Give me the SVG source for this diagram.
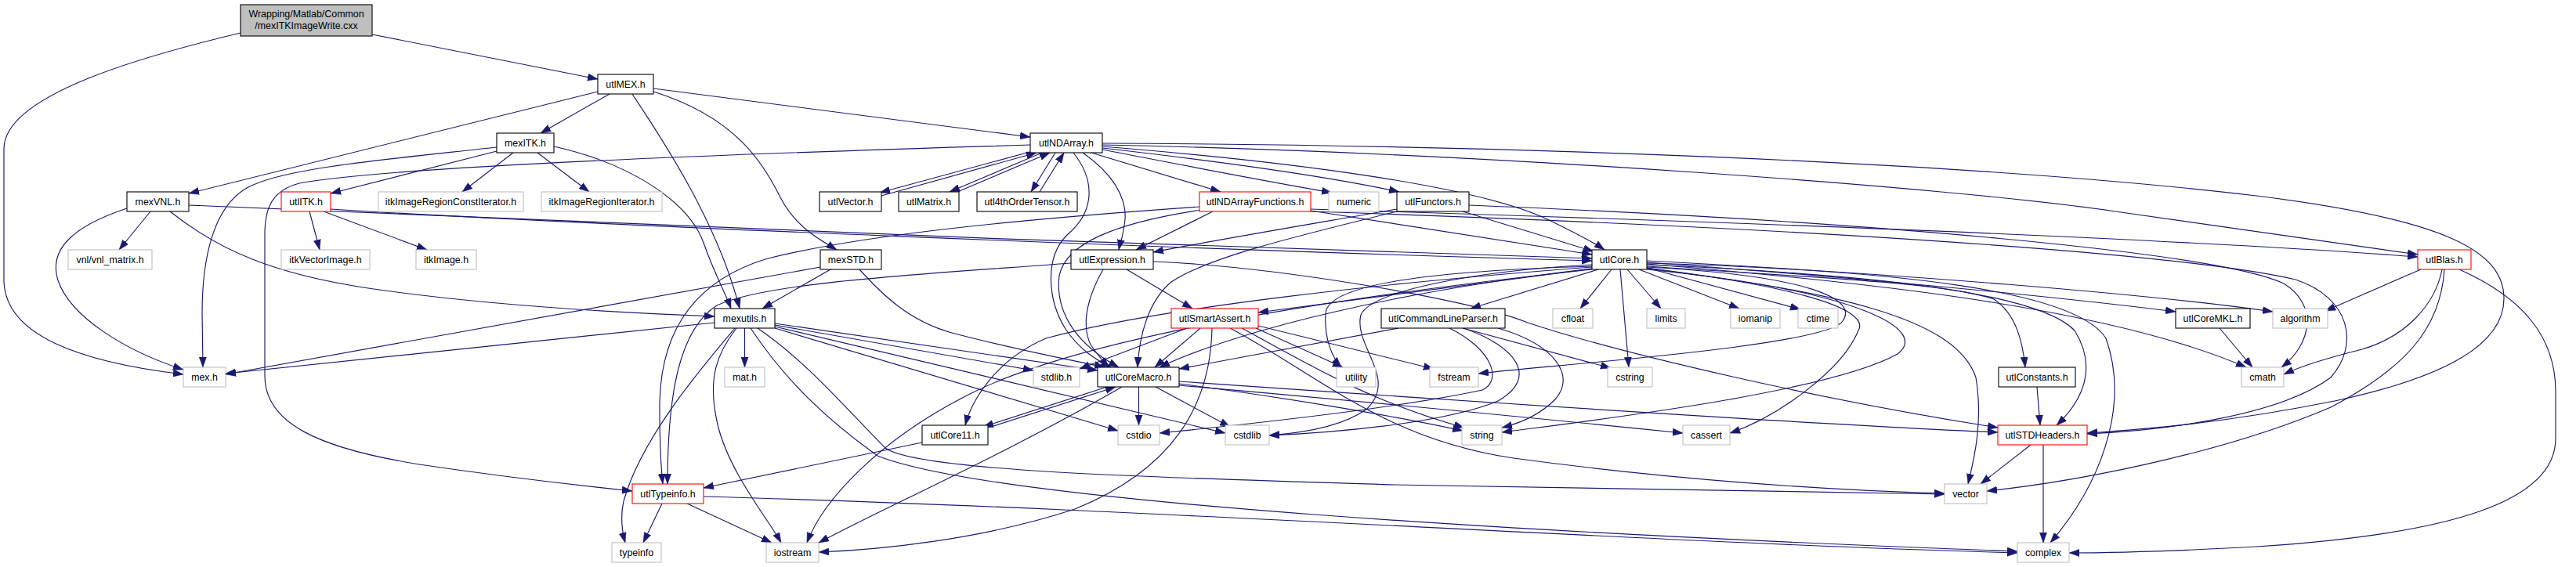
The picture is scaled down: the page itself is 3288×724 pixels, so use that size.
<svg xmlns="http://www.w3.org/2000/svg" width="3288" height="724" viewBox="0 0 3288 724">
<defs>
<style>
.nd rect{fill:#fff;stroke:#000;stroke-width:1.1}
.gy rect{fill:#fff;stroke:#bfbfbf;stroke-width:1.1}
.rd rect{fill:#fff;stroke:#ff0000;stroke-width:1.1}
.rt rect{fill:#bfbfbf;stroke:#000;stroke-width:1.1}
text{font-family:"Liberation Sans",Arial,Helvetica,sans-serif;font-size:12.4px;text-anchor:middle;fill:#000}
#edges path{fill:none;stroke:#191970;stroke-width:1.15;marker-end:url(#ah)}
</style>
<marker id="ah" markerUnits="userSpaceOnUse" markerWidth="14" markerHeight="10" viewBox="0 0 14 10" refX="13" refY="5" orient="auto"><path d="M0,0.4 L13,5 L0,9.6 z" fill="#191970" stroke="#191970" stroke-width="0.5"/></marker>
</defs>
<rect width="3288" height="724" fill="#fff"/>
<g id="edges">
<path d="M475,44 L763,101"/>
<path d="M307,42 C190,70 5,120 5,190 L5,360 C8,428 100,462 234,478"/>
<path d="M778,120 L690,170"/>
<path d="M763,117 L241,247"/>
<path d="M834,117 C940,150 975,210 995,250 C1015,290 1045,305 1068,319"/>
<path d="M807,120 C840,170 915,280 944,394"/>
<path d="M834,113 L1315,175"/>
<path d="M634,193 L422,247"/>
<path d="M655,195 L590,245"/>
<path d="M686,195 L752,245"/>
<path d="M634,188 C480,205 360,215 315,240 C272,265 258,330 258,400 L259,469"/>
<path d="M707,187 C810,210 880,260 898,310 C912,350 925,372 933,394"/>
<path d="M192,270 L152,319"/>
<path d="M162,266 C90,290 62,320 74,358 C90,405 160,448 234,472"/>
<path d="M217,270 C280,320 350,350 470,368 C620,390 780,399 912,404"/>
<path d="M241,262 C600,280 1500,315 2032,330"/>
<path d="M395,270 L408,319"/>
<path d="M413,270 L545,319"/>
<path d="M422,267 C700,285 1500,318 2032,333"/>
<path d="M1047,341 L288,478"/>
<path d="M1060,344 L973,394"/>
<path d="M1097,344 C1125,375 1160,410 1215,425 C1310,450 1380,462 1410,469"/>
<path d="M1318,193 L1123,246"/>
<path d="M1125,250 L1323,195"/>
<path d="M1330,195 L1212,245"/>
<path d="M1222,245 L1340,195"/>
<path d="M1347,195 L1316,245"/>
<path d="M1327,245 L1358,195"/>
<path d="M1393,195 L1558,245"/>
<path d="M1407,191 C1480,205 1580,225 1700,246"/>
<path d="M1407,189 C1530,203 1680,222 1786,245"/>
<path d="M1407,187 C1630,205 1880,235 1975,280 C2010,297 2035,310 2048,319"/>
<path d="M1382,195 C1418,220 1438,250 1436,280 C1434,300 1430,310 1428,319"/>
<path d="M1407,185 C1900,195 2500,240 2700,270 C2880,296 3020,316 3086,325"/>
<path d="M1407,183 C1900,185 2500,205 2880,250 C3120,280 3195,320 3196,380 C3197,440 3120,482 2980,512 C2840,540 2740,548 2664,553"/>
<path d="M1370,195 C1398,230 1398,270 1362,300 C1332,330 1338,385 1360,420 C1378,447 1400,460 1418,469"/>
<path d="M1315,185 C880,198 490,214 382,234 C344,244 338,270 338,300 L338,480 C338,540 405,572 535,593 C650,610 740,620 807,627"/>
<path d="M1548,270 L1450,319"/>
<path d="M1533,268 C1420,285 1360,312 1352,352 C1346,402 1378,442 1428,469"/>
<path d="M1531,264 C1300,280 1100,300 980,330 C880,360 842,430 842,520 C842,570 844,600 846,618"/>
<path d="M1673,269 L2032,325"/>
<path d="M1673,267 C2200,283 2780,305 3086,328"/>
<path d="M1673,270 C2280,290 2780,322 2930,357 C3000,380 3012,440 2975,482 C2910,530 2770,549 2664,554"/>
<path d="M1875,262 C2380,282 2830,322 2915,362 C2960,390 2950,440 2912,469"/>
<path d="M1867,270 L2034,321"/>
<path d="M1783,267 C1680,285 1560,305 1472,322"/>
<path d="M1783,270 C1640,305 1540,330 1495,360 C1465,385 1454,430 1452,469"/>
<path d="M1408,344 C1392,372 1378,410 1392,440 C1402,455 1410,463 1415,469"/>
<path d="M1438,344 L1522,394"/>
<path d="M1472,334 C1620,340 1870,380 1950,412 C2070,452 2330,512 2550,546"/>
<path d="M1367,336 C1180,350 980,360 915,390 C868,420 852,500 852,618"/>
<path d="M1532,419 L1474,469"/>
<path d="M1515,419 L1378,471"/>
<path d="M1547,419 C1545,520 1495,600 1372,650 C1250,690 1120,702 1045,705"/>
<path d="M1603,419 L1714,469"/>
<path d="M1606,416 L1830,471"/>
<path d="M1585,419 C1665,462 1745,512 1869,546"/>
<path d="M1570,419 C1685,480 1765,560 1932,585 C2130,612 2330,626 2482,630"/>
<path d="M1785,419 L1505,471"/>
<path d="M1912,419 C1985,440 2012,480 1985,510 C1965,530 1942,540 1917,546"/>
<path d="M1867,419 L2056,470"/>
<path d="M1868,419 C1935,442 1965,482 1912,512 C1840,542 1690,553 1620,556"/>
<path d="M1850,419 C1905,446 1918,486 1892,498 C1780,522 1590,542 1480,553"/>
<path d="M2033,343 L1606,399"/>
<path d="M2040,344 L1877,394"/>
<path d="M2057,344 L2017,394"/>
<path d="M2068,344 L2079,469"/>
<path d="M2077,344 L2120,394"/>
<path d="M2092,344 L2220,394"/>
<path d="M2102,342 L2298,395"/>
<path d="M2102,335 C2380,355 2635,380 2777,398"/>
<path d="M2102,333 C2430,350 2740,375 2901,398"/>
<path d="M2102,337 C2380,360 2690,392 2867,469"/>
<path d="M2102,340 C2320,355 2480,360 2545,382 C2575,402 2582,440 2585,469"/>
<path d="M2102,338 C2380,350 2600,372 2648,422 C2678,470 2658,512 2625,543"/>
<path d="M2102,336 C2430,345 2650,372 2688,432 C2720,522 2678,622 2617,693"/>
<path d="M2102,342 C2330,372 2495,402 2522,482 C2532,542 2518,592 2512,618"/>
<path d="M2102,343 C2270,362 2390,392 2372,422 C2352,472 2270,532 2208,553"/>
<path d="M2102,341 C2310,352 2372,382 2352,410 C2332,442 1980,466 1887,477"/>
<path d="M2102,344 C2380,372 2462,422 2422,452 C2332,502 2030,537 1917,552"/>
<path d="M2032,340 C1830,346 1695,362 1692,400 C1690,432 1700,456 1712,469"/>
<path d="M2032,338 C1880,346 1750,372 1737,402 C1727,442 1785,482 1745,522 C1712,546 1660,553 1620,556"/>
<path d="M2032,341 C1780,360 1480,392 1335,432 C1270,460 1240,512 1232,543"/>
<path d="M2032,343 C1780,372 1580,422 1480,469"/>
<path d="M2032,344 C1680,382 1380,432 1240,502 C1120,562 1050,640 1030,693"/>
<path d="M2600,494 L2604,543"/>
<path d="M2592,568 L2528,618"/>
<path d="M2608,568 L2608,693"/>
<path d="M2833,419 L2875,469"/>
<path d="M3090,344 L2968,397"/>
<path d="M3117,344 C3108,390 3070,430 3015,446 C2975,456 2940,466 2915,478"/>
<path d="M3120,344 C3115,420 3070,470 2975,520 C2830,582 2640,616 2536,627"/>
<path d="M3139,344 C3220,380 3262,430 3262,500 L3262,560 C3262,640 3130,682 2880,698 C2770,704 2700,706 2641,706"/>
<path d="M845,643 L821,693"/>
<path d="M877,643 L985,693"/>
<path d="M898,634 C1480,650 2080,692 2575,706"/>
<path d="M938,419 C895,470 818,560 796,640 C791,662 795,682 798,693"/>
<path d="M940,419 C916,450 902,482 916,542 C930,602 980,662 997,693"/>
<path d="M950.5,419 L950.5,469"/>
<path d="M912,412 L288,477"/>
<path d="M989,415 L1319,473"/>
<path d="M989,413 L1401,473"/>
<path d="M989,419 L1427,550"/>
<path d="M989,417 L1564,553"/>
<path d="M967,419 C1030,462 1080,522 1130,572 C1170,602 1480,610 1780,619 C2080,626 2330,629 2482,631"/>
<path d="M958,419 C1000,482 1050,532 1120,582 C1270,642 1980,682 2575,704"/>
<path d="M1453.5,494 L1453.5,543"/>
<path d="M1475,494 L1570,545"/>
<path d="M1413,494 L1255,545"/>
<path d="M1262,546 L1424,494"/>
<path d="M1432,494 C1280,582 1120,652 1045,693"/>
<path d="M1505,487 C1780,506 2290,541 2550,552"/>
<path d="M1505,490 C1630,506 1780,531 1867,550"/>
<path d="M1505,492 C1780,516 2030,541 2148,553"/>
<path d="M1177,565 L898,623"/>
</g>
<g id="n-root" class="rt"><rect x="307" y="6" width="168" height="40"/><text x="391" y="21.5">Wrapping/Matlab/Common</text><text x="391" y="36.5">/mexITKImageWrite.cxx</text></g>
<g id="n-utlMEX" class="nd"><rect x="763" y="95" width="71" height="25"/><text x="798.5" y="112">utlMEX.h</text></g>
<g id="n-mexITK" class="nd"><rect x="634" y="170" width="73" height="25"/><text x="670.5" y="187">mexITK.h</text></g>
<g id="n-utlNDArray" class="nd"><rect x="1315" y="170" width="92" height="25"/><text x="1361" y="187">utlNDArray.h</text></g>
<g id="n-mexVNL" class="nd"><rect x="162" y="245" width="79" height="25"/><text x="201.5" y="262">mexVNL.h</text></g>
<g id="n-utlITK" class="rd"><rect x="359" y="245" width="63" height="25"/><text x="390.5" y="262">utlITK.h</text></g>
<g id="n-itkIRCI" class="gy"><rect x="483" y="245" width="185" height="25"/><text x="575.5" y="262">itkImageRegionConstIterator.h</text></g>
<g id="n-itkIRI" class="gy"><rect x="691" y="245" width="154" height="25"/><text x="768" y="262">itkImageRegionIterator.h</text></g>
<g id="n-utlVector" class="nd"><rect x="1046" y="245" width="79" height="25"/><text x="1085.5" y="262">utlVector.h</text></g>
<g id="n-utlMatrix" class="nd"><rect x="1147" y="245" width="77" height="25"/><text x="1185.5" y="262">utlMatrix.h</text></g>
<g id="n-utl4th" class="nd"><rect x="1247" y="245" width="128" height="25"/><text x="1311" y="262">utl4thOrderTensor.h</text></g>
<g id="n-utlNDAF" class="rd"><rect x="1531" y="245" width="142" height="25"/><text x="1602" y="262">utlNDArrayFunctions.h</text></g>
<g id="n-numeric" class="gy"><rect x="1696" y="245" width="64" height="25"/><text x="1728" y="262">numeric</text></g>
<g id="n-utlFunctors" class="nd"><rect x="1783" y="245" width="92" height="25"/><text x="1829" y="262">utlFunctors.h</text></g>
<g id="n-vnl" class="gy"><rect x="87" y="319" width="107" height="25"/><text x="140.5" y="336">vnl/vnl_matrix.h</text></g>
<g id="n-itkVectorImage" class="gy"><rect x="359" y="319" width="113" height="25"/><text x="415.5" y="336">itkVectorImage.h</text></g>
<g id="n-itkImage" class="gy"><rect x="531" y="319" width="77" height="25"/><text x="569.5" y="336">itkImage.h</text></g>
<g id="n-mexSTD" class="nd"><rect x="1047" y="319" width="78" height="25"/><text x="1086" y="336">mexSTD.h</text></g>
<g id="n-utlExpression" class="nd"><rect x="1367" y="319" width="105" height="25"/><text x="1419.5" y="336">utlExpression.h</text></g>
<g id="n-utlCore" class="nd"><rect x="2032" y="319" width="70" height="25"/><text x="2067" y="336">utlCore.h</text></g>
<g id="n-utlBlas" class="rd"><rect x="3086" y="319" width="68" height="25"/><text x="3120" y="336">utlBlas.h</text></g>
<g id="n-mexutils" class="nd"><rect x="912" y="394" width="77" height="25"/><text x="950.5" y="411">mexutils.h</text></g>
<g id="n-utlSmartAssert" class="rd"><rect x="1495" y="394" width="111" height="25"/><text x="1550.5" y="411">utlSmartAssert.h</text></g>
<g id="n-utlCLP" class="nd"><rect x="1763" y="394" width="158" height="25"/><text x="1842" y="411">utlCommandLineParser.h</text></g>
<g id="n-cfloat" class="gy"><rect x="1982" y="394" width="51" height="25"/><text x="2007.5" y="411">cfloat</text></g>
<g id="n-limits" class="gy"><rect x="2102" y="394" width="49" height="25"/><text x="2126.5" y="411">limits</text></g>
<g id="n-iomanip" class="gy"><rect x="2209" y="394" width="63" height="25"/><text x="2240.5" y="411">iomanip</text></g>
<g id="n-ctime" class="gy"><rect x="2295" y="394" width="51" height="25"/><text x="2320.5" y="411">ctime</text></g>
<g id="n-utlCoreMKL" class="nd"><rect x="2777" y="394" width="95" height="25"/><text x="2824.5" y="411">utlCoreMKL.h</text></g>
<g id="n-algorithm" class="gy"><rect x="2901" y="394" width="70" height="25"/><text x="2936" y="411">algorithm</text></g>
<g id="n-mex" class="gy"><rect x="234" y="469" width="54" height="25"/><text x="261" y="486">mex.h</text></g>
<g id="n-mat" class="gy"><rect x="925" y="469" width="51" height="25"/><text x="950.5" y="486">mat.h</text></g>
<g id="n-stdlibh" class="gy"><rect x="1319" y="469" width="59" height="25"/><text x="1348.5" y="486">stdlib.h</text></g>
<g id="n-utlCoreMacro" class="nd"><rect x="1401" y="469" width="104" height="25"/><text x="1453" y="486">utlCoreMacro.h</text></g>
<g id="n-utility" class="gy"><rect x="1706" y="469" width="50" height="25"/><text x="1731" y="486">utility</text></g>
<g id="n-fstream" class="gy"><rect x="1825" y="469" width="62" height="25"/><text x="1856" y="486">fstream</text></g>
<g id="n-cstring" class="gy"><rect x="2052" y="469" width="57" height="25"/><text x="2080.5" y="486">cstring</text></g>
<g id="n-utlConstants" class="nd"><rect x="2551" y="469" width="98" height="25"/><text x="2600" y="486">utlConstants.h</text></g>
<g id="n-cmath" class="gy"><rect x="2861" y="469" width="54" height="25"/><text x="2888" y="486">cmath</text></g>
<g id="n-utlCore11" class="nd"><rect x="1177" y="543" width="84" height="25"/><text x="1219" y="560">utlCore11.h</text></g>
<g id="n-cstdio" class="gy"><rect x="1427" y="543" width="53" height="25"/><text x="1453.5" y="560">cstdio</text></g>
<g id="n-cstdlib" class="gy"><rect x="1564" y="543" width="56" height="25"/><text x="1592" y="560">cstdlib</text></g>
<g id="n-string" class="gy"><rect x="1866" y="543" width="51" height="25"/><text x="1891.5" y="560">string</text></g>
<g id="n-cassert" class="gy"><rect x="2148" y="543" width="60" height="25"/><text x="2178" y="560">cassert</text></g>
<g id="n-utlSTDHeaders" class="rd"><rect x="2550" y="543" width="114" height="25"/><text x="2607" y="560">utlSTDHeaders.h</text></g>
<g id="n-utlTypeinfo" class="rd"><rect x="807" y="618" width="91" height="25"/><text x="852.5" y="635">utlTypeinfo.h</text></g>
<g id="n-vector" class="gy"><rect x="2482" y="618" width="54" height="25"/><text x="2509" y="635">vector</text></g>
<g id="n-typeinfo" class="gy"><rect x="781" y="693" width="63" height="25"/><text x="812.5" y="710">typeinfo</text></g>
<g id="n-iostream" class="gy"><rect x="978" y="693" width="67" height="25"/><text x="1011.5" y="710">iostream</text></g>
<g id="n-complex" class="gy"><rect x="2575" y="693" width="66" height="25"/><text x="2608" y="710">complex</text></g>
</svg>
